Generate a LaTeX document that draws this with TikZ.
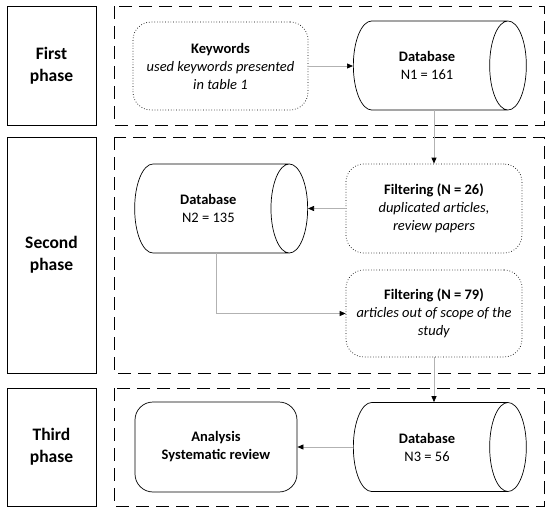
\documentclass[tikz,border=0pt]{standalone}
\usepackage{fontspec}
\setmainfont{Carlito}
\usepackage{tikz}
\usetikzlibrary{arrows, arrows.meta, calc, positioning, shapes.geometric}

\begin{document}
\begin{tikzpicture}[x=1pt, y=-1pt,
		phasebox/.style={draw, line width=.9pt, minimum width=89pt, align=center, font=\fontsize{17.5}{22}\selectfont\bfseries},
		stagebox/.style={draw, dash pattern=on 13pt off 7pt, line width=.8pt},
		infobox/.style={draw, dotted, line width=.7pt, rounded corners=18pt, align=center, font=\fontsize{14.5}{18}\selectfont},
		dbase/.style={draw, cylinder, aspect=1.05, line width=.7pt, minimum width=89pt, minimum height=173pt, align=center, font=\fontsize{14.5}{18}\selectfont},
		flow/.style={draw=gray!60, line width=.7pt, -{Triangle[black, length=6pt, width=5pt]}}]
		\useasboundingbox (0,0) rectangle (550,514);
		\node[phasebox, minimum height=119pt] (ph1) at (51.5,65.5) {First\\phase};
		\node[phasebox, minimum height=236pt] (ph2) at (51.5,255) {Second\\phase};
		\node[phasebox, minimum height=118pt] (ph3) at (51.5,447) {Third\\phase};
		\draw[stagebox] (114,6) rectangle (544,125);
		\draw[stagebox] (114,137) rectangle (544,373);
		\draw[stagebox] (114,388) rectangle (544,506);
		\node[infobox, minimum width=175pt, minimum height=88pt] (kw) at (220.5,66) {\textbf{Keywords}\\\textit{used keywords presented}\\\textit{in table 1}};
		\node[dbase, anchor=west] (db1) at (353,65.5) {\textbf{Database}\\N1 = 161};
		\node[infobox, minimum width=176pt, minimum height=89pt] (filt1) at (434,208.5) {\textbf{Filtering (N = 26)}\\\textit{duplicated articles,}\\\textit{review papers}};
		\node[dbase, anchor=east] (db2) at (308,208.5) {\textbf{Database}\\N2 = 135};
		\node[infobox, minimum width=176pt, minimum height=87pt] (filt2) at (434,313.5) {\textbf{Filtering (N = 79)}\\\textit{articles out of scope of the}\\\textit{study}};
		\node[dbase, anchor=west] (db3) at (353,447) {\textbf{Database}\\N3 = 56};
		\node[draw, line width=.7pt, rounded corners=18pt, minimum width=162pt, minimum height=90pt, align=center, font=\fontsize{14.5}{18}\selectfont\bfseries] (ana) at (216,447) {Analysis\\Systematic review};
		\draw[flow] (kw.east) -- (kw.east -| db1.west);
		\draw[flow] (filt1.north |- db1.south) -- (filt1.north);
		\draw[flow] (filt1.west) -- (db2.east);
		\draw[flow] ($(db2.south)+(8.5,0)$) |- (filt2.west);
		\draw[flow] (filt2.south) -- (filt2.south |- db3.north);
		\draw[flow] (db3.west) -- (ana.east);
	\end{tikzpicture}
\end{document}
